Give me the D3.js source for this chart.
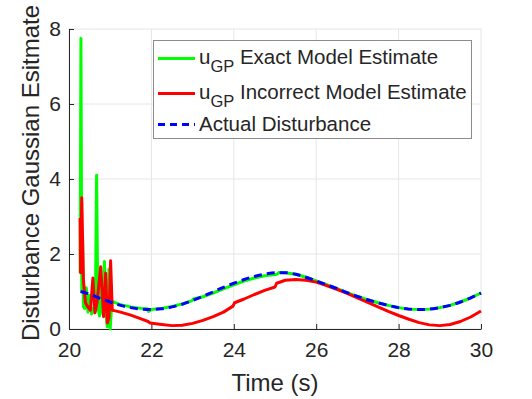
<!DOCTYPE html>
<html>
<head>
<meta charset="utf-8">
<script src="https://cdn.jsdelivr.net/npm/d3@7"></script>
<style>
  body { margin: 0; background: #fff; }
  text { font-family: "Liberation Sans", Arial, Helvetica, sans-serif; fill: #262626; }
</style>
</head>
<body>
<script>
// Chart data
var xTicks = [20, 22, 24, 26, 28, 30];
var yTicks = [0, 2, 4, 6, 8];

// actual disturbance (blue dashed)
var tActual = [20.28, 20.5, 20.75, 21, 21.25, 21.5, 21.75, 22, 22.25, 22.5, 22.75, 23, 23.25, 23.5, 23.75, 24,
    24.25, 24.5, 24.75, 25, 25.25, 25.5, 25.75, 26, 26.25, 26.5, 26.75, 27, 27.25, 27.5, 27.75, 28,
    28.25, 28.5, 28.75, 29, 29.25, 29.5, 29.75, 30];
var actual = [1.00, 0.93, 0.82, 0.72, 0.63, 0.57, 0.53, 0.52, 0.54, 0.59, 0.66, 0.76, 0.87, 0.99, 1.11, 1.22,
    1.32, 1.40, 1.46, 1.50, 1.50, 1.46, 1.38, 1.28, 1.18, 1.08, 0.97, 0.87, 0.78, 0.70, 0.63, 0.57,
    0.53, 0.52, 0.53, 0.57, 0.63, 0.72, 0.83, 0.96];

// u_GP exact model estimate (green)
var tExact = [20.27, 20.29, 20.31, 20.33, 20.35, 20.38, 20.42, 20.46, 20.5, 20.55, 20.6, 20.64, 20.67, 20.7,
    20.74, 20.78, 20.82, 20.86, 20.9, 20.93, 20.97, 21.0, 21.04, 21.1, 21.25, 21.5, 21.75, 21.9, 21.93,
    22.0, 22.25, 22.5, 22.75, 22.98, 23.02, 23.25, 23.5, 23.75, 24, 24.25, 24.5, 24.75, 25.0, 25.05,
    25.1, 25.25, 25.5, 25.75, 26, 26.25, 26.5, 26.75, 27, 27.25, 27.5, 27.75, 28, 28.25, 28.5, 28.75,
    29, 29.25, 29.5, 29.75, 30];
var exact = [1.5, 7.75, 1.0, 2.4, 0.6, 0.55, 1.1, 0.45, 0.9, 0.4, 0.55, 0.5, 4.1, 0.6,
    0.35, 1.2, 0.4, 1.8, 0.4, 0.06, 1.6, 0.0, 0.75, 0.71, 0.65, 0.59, 0.55, 0.54, 0.47,
    0.52, 0.55, 0.60, 0.67, 0.75, 0.80, 0.86, 0.96, 1.07, 1.18, 1.28, 1.36, 1.42, 1.45, 1.46,
    1.51, 1.50, 1.46, 1.38, 1.28, 1.18, 1.08, 0.97, 0.87, 0.78, 0.70, 0.63, 0.57, 0.53, 0.52, 0.53,
    0.57, 0.63, 0.72, 0.83, 0.96];

// u_GP incorrect model estimate (red)
var tIncorrect = [20.27, 20.28, 20.31, 20.35, 20.4, 20.45, 20.52, 20.58, 20.63, 20.68, 20.77, 20.84, 20.89,
    20.93, 20.97, 21.01, 21.05, 21.1, 21.25, 21.5, 21.75, 21.92, 21.97, 22.25, 22.5, 22.75, 23.0,
    23.25, 23.5, 23.75, 23.98, 24.02, 24.25, 24.5, 24.75, 25.0, 25.04, 25.25, 25.5, 25.75, 26.0,
    26.25, 26.5, 26.75, 27.0, 27.25, 27.5, 27.75, 28.0, 28.25, 28.5, 28.75, 29.0, 29.25, 29.5,
    29.75, 30.0];
var incorrect = [2.96, 1.5, 3.5, 1.3, 0.7, 0.6, 0.5, 1.36, 0.43, 0.7, 1.66, 0.33, 1.49,
    0.16, 0.3, 1.82, 0.5, 0.49, 0.45, 0.37, 0.27, 0.20, 0.16, 0.12, 0.09, 0.10, 0.15,
    0.23, 0.33, 0.45, 0.61, 0.70, 0.80, 0.92, 1.03, 1.12, 1.22, 1.30, 1.32, 1.30, 1.25,
    1.16, 1.06, 0.95, 0.83, 0.71, 0.59, 0.47, 0.36, 0.26, 0.17, 0.11, 0.09, 0.12, 0.20,
    0.32, 0.48];

// Chart Params
var svgWidth = 532;
var svgHeight = 399;
var margin = { top: 29, right: 51, bottom: 70, left: 69 };
var width = svgWidth - margin.left - margin.right;
var height = svgHeight - margin.top - margin.bottom;

var svg = d3.select("body")
    .append("svg")
    .attr("width", svgWidth)
    .attr("height", svgHeight);

var chartGroup = svg.append("g")
    .attr("transform", `translate(${margin.left}, ${margin.top})`);

// scales
var xScale = d3.scaleLinear().domain([20, 30]).range([0, width]);
var yScale = d3.scaleLinear().domain([0, 8]).range([height, 0]);

// grid
chartGroup.append("g").selectAll("line")
    .data(xTicks)
    .enter().append("line")
    .attr("x1", d => xScale(d)).attr("x2", d => xScale(d))
    .attr("y1", 0).attr("y2", height)
    .attr("stroke", "#e6e6e6").attr("stroke-width", 1);
chartGroup.append("g").selectAll("line")
    .data(yTicks)
    .enter().append("line")
    .attr("x1", 0).attr("x2", width)
    .attr("y1", d => yScale(d)).attr("y2", d => yScale(d))
    .attr("stroke", "#e6e6e6").attr("stroke-width", 1);

// axes (MATLAB style: ticks inside, no box)
var bottomAxis = d3.axisBottom(xScale).tickValues(xTicks).tickSizeInner(-5).tickSizeOuter(0).tickPadding(13);
var leftAxis = d3.axisLeft(yScale).tickValues(yTicks).tickSizeInner(-5).tickSizeOuter(0).tickPadding(8);

var xAxisG = chartGroup.append("g")
    .attr("transform", `translate(0, ${height})`)
    .call(bottomAxis);
var yAxisG = chartGroup.append("g")
    .call(leftAxis);

[xAxisG, yAxisG].forEach(function (g) {
    g.selectAll("path").attr("stroke", "#262626");
    g.selectAll("line").attr("stroke", "#262626");
    g.selectAll("text")
        .style("font-size", "21px")
        .style("font-family", "'Liberation Sans', Arial, sans-serif")
        .attr("fill", "#262626");
});

// lines
function toPoints(ts, vs) {
    return ts.map((t, i) => [t, vs[i]]);
}
var line = d3.line()
    .x(d => xScale(d[0]))
    .y(d => yScale(d[1]));
var smoothLine = d3.line()
    .x(d => xScale(d[0]))
    .y(d => yScale(d[1]))
    .curve(d3.curveMonotoneX);

chartGroup.append("path")
    .datum(toPoints(tExact, exact))
    .attr("d", line)
    .attr("fill", "none")
    .attr("stroke", "#00ff00")
    .attr("stroke-width", 3)
    .attr("stroke-linejoin", "round");

chartGroup.append("path")
    .datum(toPoints(tIncorrect, incorrect))
    .attr("d", line)
    .attr("fill", "none")
    .attr("stroke", "#ff0000")
    .attr("stroke-width", 3)
    .attr("stroke-linejoin", "round");

chartGroup.append("path")
    .datum(toPoints(tActual, actual))
    .attr("d", smoothLine)
    .attr("fill", "none")
    .attr("stroke", "#0000ff")
    .attr("stroke-width", 3)
    .attr("stroke-dasharray", "8,5");

// axis labels
svg.append("text")
    .attr("x", margin.left + width / 2)
    .attr("y", 391)
    .attr("text-anchor", "middle")
    .style("font-size", "24px")
    .text("Time (s)");

svg.append("text")
    .attr("transform", "rotate(-90)")
    .attr("x", -173)
    .attr("y", 39)
    .attr("text-anchor", "middle")
    .style("font-size", "24px")
    .text("Disturbance Gaussian Esitmate");

// legend
var legend = svg.append("g");
legend.append("rect")
    .attr("x", 153.5).attr("y", 40.5)
    .attr("width", 318).attr("height", 98)
    .attr("fill", "#fff")
    .attr("stroke", "#8c8c8c")
    .attr("stroke-width", 1);

var legendItems = [
    { color: "#00ff00", dash: null, sub: true, text: " Exact Model Estimate", ly: 58.5, ty: 64 },
    { color: "#ff0000", dash: null, sub: true, text: " Incorrect Model Estimate", ly: 93.5, ty: 99 },
    { color: "#0000ff", dash: "7,5", sub: false, text: "Actual Disturbance", ly: 124.5, ty: 131 }
];

legendItems.forEach(function (item) {
    legend.append("line")
        .attr("x1", 158).attr("x2", 195)
        .attr("y1", item.ly).attr("y2", item.ly)
        .attr("stroke", item.color)
        .attr("stroke-width", 3)
        .attr("stroke-dasharray", item.dash);
    var t = legend.append("text")
        .attr("x", 199)
        .attr("y", item.ty)
        .style("font-size", "20.5px");
    if (item.sub) {
        t.append("tspan").text("u");
        t.append("tspan").attr("dy", 8).style("font-size", "16.5px").text("GP");
        t.append("tspan").attr("dy", -8).text(item.text);
    } else {
        t.text(item.text);
    }
});
</script>
</body>
</html>
